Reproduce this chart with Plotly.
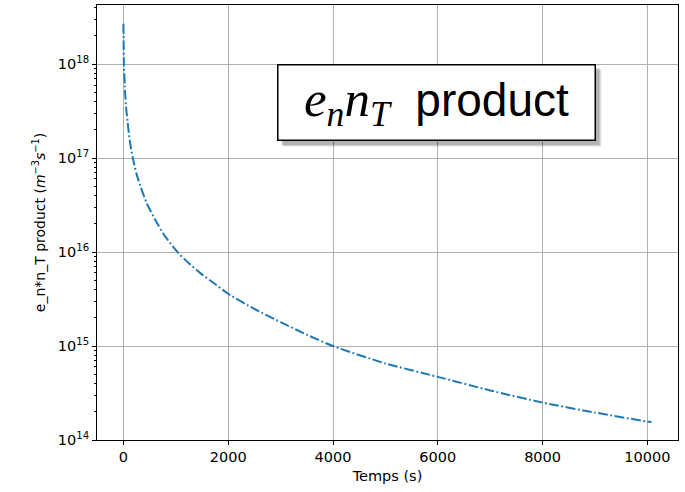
import plotly.graph_objects as go

# Data
temps = [0, 10, 27, 50, 78, 120, 180, 250, 332, 450, 620, 800, 1034, 1250,
         1480, 1750, 2000, 2500, 3000, 3500, 4000, 5000, 6000, 7000, 8000,
         9000, 10000, 10080]
product = [2.7e18, 1.0e18, 5.75e17, 3.55e17, 2.5e17, 1.55e17, 1.0e17, 6.8e16,
           4.9e16, 3.27e16, 2.14e16, 1.46e16, 1.0e16, 7.6e15, 5.9e15, 4.57e15,
           3.6e15, 2.48e15, 1.8e15, 1.32e15, 1.0e15, 6.53e14, 4.7e14, 3.37e14,
           2.5e14, 1.96e14, 1.57e14, 1.55e14]
x_ticks = [0, 2000, 4000, 6000, 8000, 10000]
x_ticktext = ["0", "2000", "4000", "6000", "8000", "10000"]
y_ticks = [1e14, 1e15, 1e16, 1e17, 1e18]
y_ticktext = ["10<sup>14</sup>", "10<sup>15</sup>", "10<sup>16</sup>",
              "10<sup>17</sup>", "10<sup>18</sup>"]

FONT = "DejaVu Sans"
FS = 14.5
fig = go.Figure()
fig.add_trace(go.Scatter(
    x=temps, y=product, mode="lines",
    line=dict(color="#1f77b4", width=2, dash="9.6px,2.6px,1.8px,2.6px",
              shape="spline", smoothing=0.6),
    showlegend=False,
))

span = max(temps) - min(temps)
fig.update_layout(
    width=685, height=492,
    margin=dict(l=97, r=7, t=5, b=52),
    paper_bgcolor="white", plot_bgcolor="white",
    font=dict(family=FONT, size=FS, color="black"),
    xaxis=dict(
        range=[min(temps) - 0.05 * span, max(temps) + 0.05 * span],
        tickmode="array", tickvals=x_ticks, ticktext=x_ticktext,
        ticks="outside", ticklen=4, tickwidth=1, tickcolor="black",
        showgrid=True, gridcolor="#b0b0b0", gridwidth=1,
        showline=True, linecolor="black", linewidth=1, mirror=True,
        zeroline=False,
        title=dict(text="Temps (s)", font=dict(size=FS), standoff=6),
        tickfont=dict(size=FS),
    ),
    yaxis=dict(
        type="log", range=[14, 18.63],
        tickmode="array", tickvals=y_ticks, ticktext=y_ticktext,
        ticks="outside", ticklen=4, tickwidth=1, tickcolor="black",
        minor=dict(ticks="outside", ticklen=2, tickcolor="black", tickwidth=0.8,
                   showgrid=False, dtick="D1"),
        showgrid=True, gridcolor="#b0b0b0", gridwidth=1,
        showline=True, linecolor="black", linewidth=1, mirror=True,
        zeroline=False,
        title=dict(text="e_n*n_T product (<i>m</i><sup>−3</sup><i>s</i><sup>−1</sup>)",
                   font=dict(size=14), standoff=8),
        tickfont=dict(size=FS),
    ),
)

ax_x = (436.5 - 97) / 581
ax_y = (440 - 102.5) / 435
BW, BH = 159, 38.5
# soft shadow behind the label box (pixel-sized shapes anchored in paper coords)
for off, alpha in [(6, 0.07), (5, 0.1), (4, 0.16)]:
    fig.add_shape(
        type="rect", xref="paper", yref="paper",
        xsizemode="pixel", ysizemode="pixel", xanchor=ax_x, yanchor=ax_y,
        x0=-BW + off, x1=BW + off, y0=-BH - off, y1=BH - off,
        fillcolor=f"rgba(0,0,0,{alpha})", line=dict(width=0), layer="above",
    )

label = ("<span style='font-family:Liberation Serif;font-size:51px'>"
         "<i>e<sub>n</sub>n<sub>T</sub></i></span>  product")
fig.add_annotation(
    xref="paper", yref="paper", x=ax_x, y=ax_y, xanchor="center", yanchor="middle",
    text=label, showarrow=False,
    font=dict(family="Liberation Sans", size=46, color="black"),
    bgcolor="white", bordercolor="black", borderwidth=1.5, borderpad=0,
    width=316, height=74,
)

fig.write_html("out.html")
